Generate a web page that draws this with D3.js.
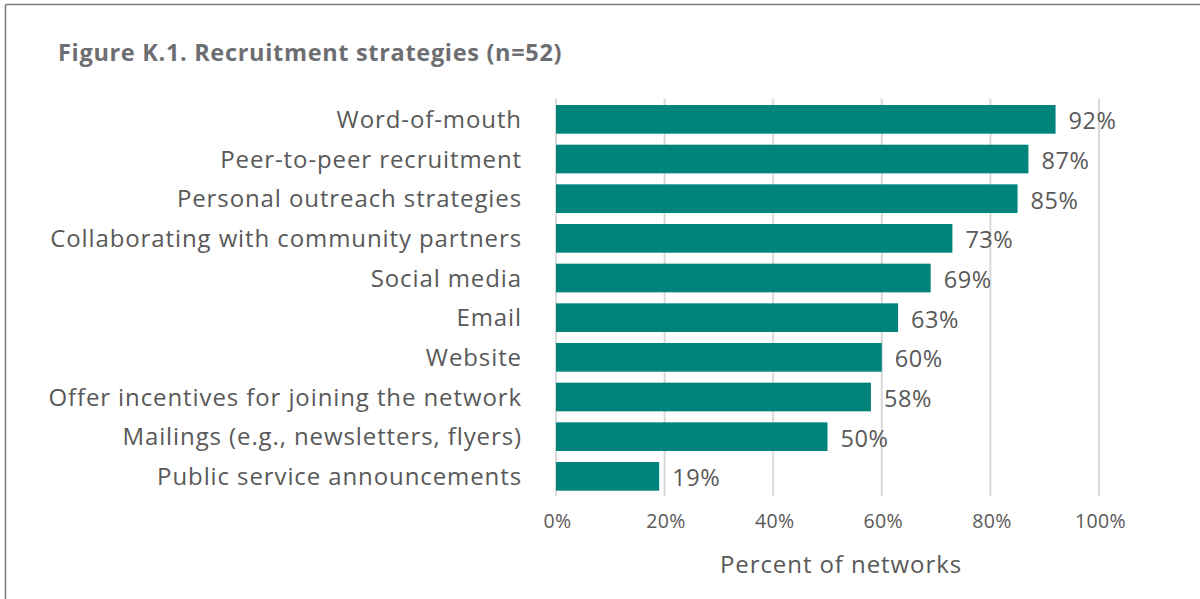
<!DOCTYPE html>
<html>
<head>
<meta charset="utf-8">
<script src="https://cdn.jsdelivr.net/npm/d3@7/dist/d3.min.js"></script>
<style>
  html, body { margin: 0; padding: 0; background: #fff; }
  svg { display: block; }
</style>
</head>
<body>
<svg id="chart" width="1200" height="599"></svg>
<script>
// Recruitment strategies, share of networks (n=52)
const categories = [
  "Word-of-mouth",
  "Peer-to-peer recruitment",
  "Personal outreach strategies",
  "Collaborating with community partners",
  "Social media",
  "Email",
  "Website",
  "Offer incentives for joining the network",
  "Mailings (e.g., newsletters, flyers)",
  "Public service announcements"
];
const values = [92, 87, 85, 73, 69, 63, 60, 58, 50, 19];
const tickValues = [0, 20, 40, 60, 80, 100];
const titleText = "Figure K.1. Recruitment strategies (n=52)";
const axisTitle = "Percent of networks";

const svg = d3.select("#chart");
const W = 1200, H = 599;
const fontFamily = "'Open Sans', Lato, sans-serif";
const textColor = "#595959";
const barColor = "#00837b";
const gridColor = "#d9d9d9";

// spread letters of a text group so that a sample string spans a given width
function spread(sel, sampleNode, width) {
  const natural = sampleNode.getComputedTextLength();
  const n = sampleNode.textContent.length;
  const ls = (width - natural) / n;
  sel.attr("letter-spacing", ls.toFixed(2));
}

// frame lines along the top and left edges
svg.append("line").attr("x1", 5.5).attr("x2", W).attr("y1", 4.5).attr("y2", 4.5)
  .attr("stroke", "#7f7f7f").attr("stroke-width", 1.6);
svg.append("line").attr("x1", 5.5).attr("x2", 5.5).attr("y1", 4.5).attr("y2", H)
  .attr("stroke", "#7f7f7f").attr("stroke-width", 1.6);

// title
const title = svg.append("text")
  .attr("x", 58).attr("y", 61)
  .attr("font-family", fontFamily)
  .attr("font-weight", 700)
  .attr("font-size", 23.5)
  .attr("fill", "#6d6e71")
  .text(titleText);
spread(title, title.node(), 504);

const x = d3.scaleLinear().domain([0, 100]).range([556, 1099]);
const y = d3.scaleBand().domain(categories).range([99.5, 496.2]).paddingInner(0.277).paddingOuter(0.139);

// vertical gridlines
svg.append("g").selectAll("line").data(tickValues).join("line")
  .attr("x1", d => x(d)).attr("x2", d => x(d))
  .attr("y1", 99).attr("y2", 496)
  .attr("stroke", gridColor).attr("stroke-width", 2);

// bars
svg.append("g").selectAll("rect").data(values).join("rect")
  .attr("x", x(0))
  .attr("y", (d, i) => y(categories[i]))
  .attr("width", d => x(d) - x(0))
  .attr("height", y.bandwidth())
  .attr("fill", barColor);

// value labels
const valueLabels = svg.append("g").selectAll("text").data(values).join("text")
  .attr("x", d => x(d) + 13)
  .attr("y", (d, i) => y(categories[i]) + y.bandwidth() / 2 + 1.5)
  .attr("dy", "0.36em")
  .attr("font-family", fontFamily)
  .attr("font-size", 23.5)
  .attr("fill", textColor)
  .text(d => d + "%");
spread(valueLabels, valueLabels.nodes()[0], 48);

// category labels
const catLabels = svg.append("g").selectAll("text").data(categories).join("text")
  .attr("x", 522)
  .attr("y", d => y(d) + y.bandwidth() / 2)
  .attr("dy", "0.36em")
  .attr("text-anchor", "end")
  .attr("font-family", fontFamily)
  .attr("font-size", 24)
  .attr("fill", textColor)
  .text(d => d);
spread(catLabels, catLabels.nodes()[3], 472);

// x axis ticks
const xAxis = d3.axisBottom(x).tickValues(tickValues).tickSize(0).tickPadding(0)
  .tickFormat(d => d + "%");
const gx = svg.append("g").attr("transform", "translate(1,528)").call(xAxis);
gx.select(".domain").remove();
const tickText = gx.selectAll("text")
  .attr("dy", 0)
  .attr("y", 0)
  .attr("font-family", fontFamily)
  .attr("font-size", 19.5)
  .attr("fill", textColor);
spread(tickText, tickText.nodes()[5], 51);

// axis title
const at = svg.append("text")
  .attr("x", 841).attr("y", 573)
  .attr("text-anchor", "middle")
  .attr("font-family", fontFamily)
  .attr("font-size", 24)
  .attr("fill", textColor)
  .text(axisTitle);
spread(at, at.node(), 242);
</script>
</body>
</html>
